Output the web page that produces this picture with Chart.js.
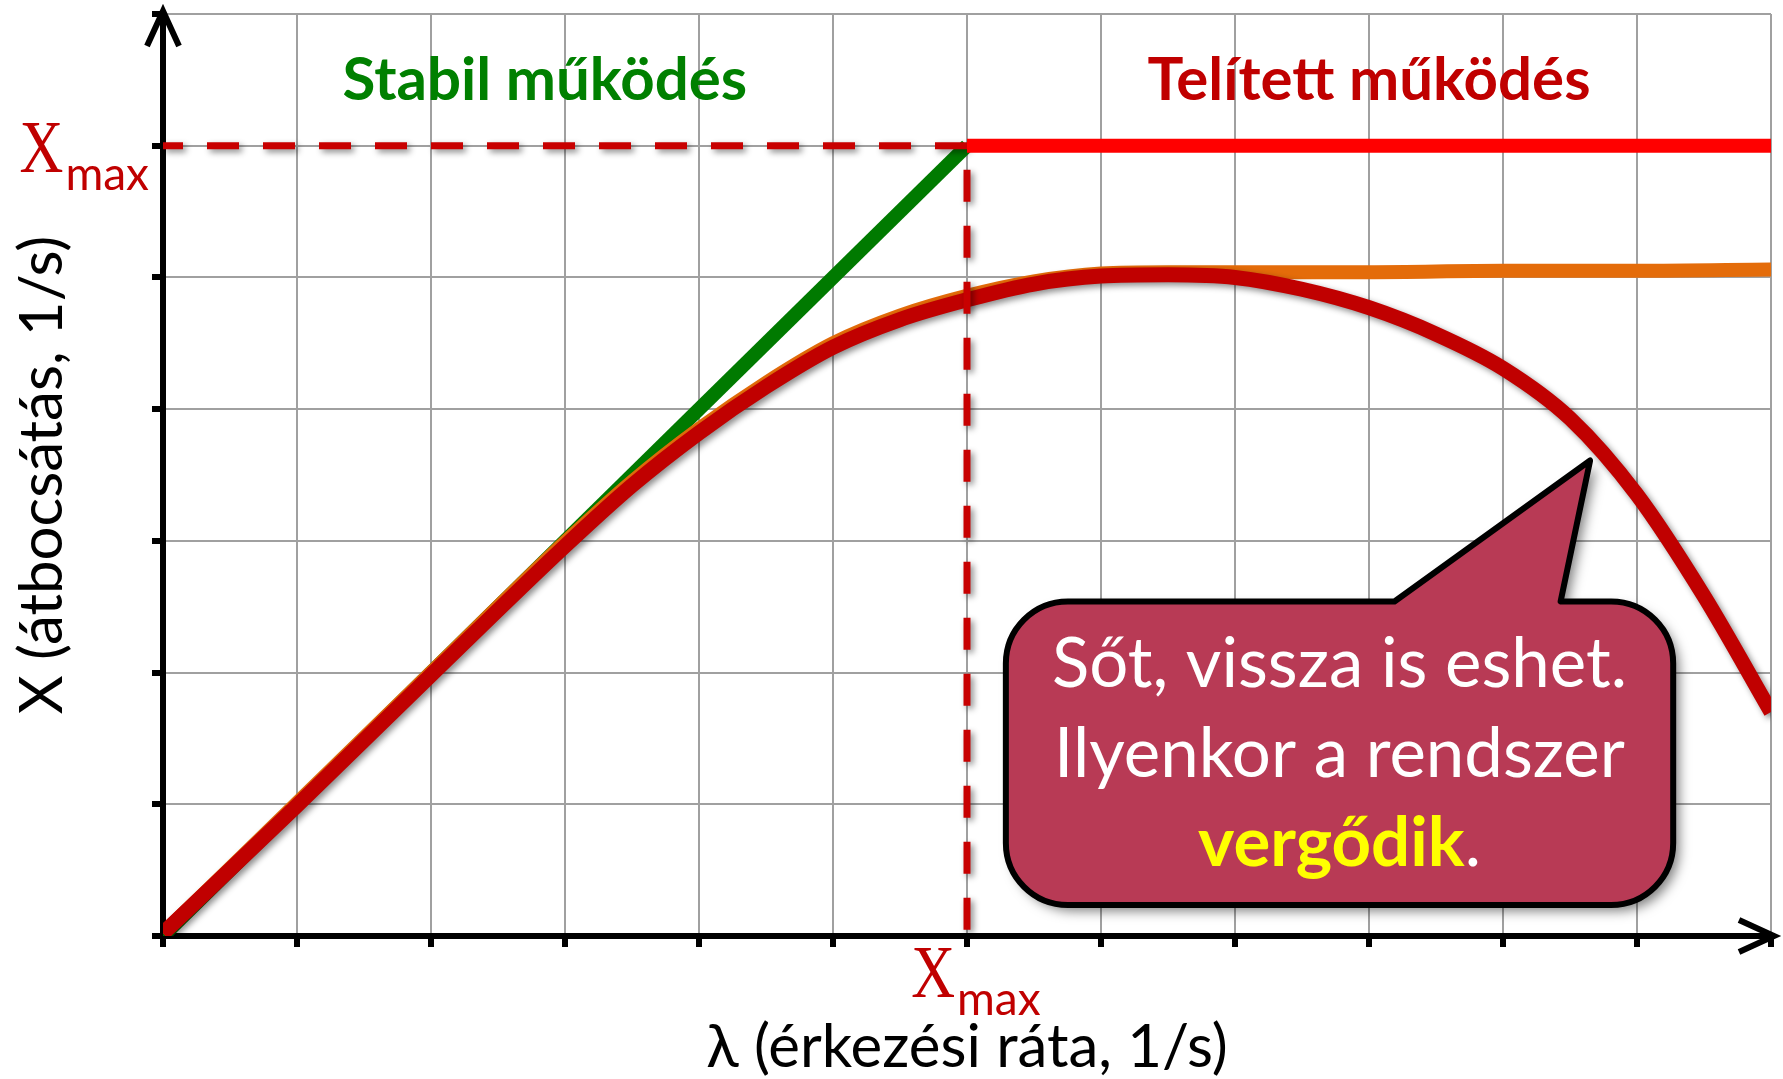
<!DOCTYPE html>
<html>
<head>
<meta charset="utf-8">
<title>Átbocsátás és érkezési ráta</title>
<script src="https://cdn.jsdelivr.net/npm/chart.js@4.4.1/dist/chart.umd.min.js"></script>
<style>
  html, body { margin: 0; padding: 0; background: #fff; }
  #chart { display: block; }
</style>
</head>
<body>
<canvas id="chart" width="1783" height="1079"></canvas>
<script>
// értékek (rács egységekben)
const xMax = 6;

const idealLambda = [0, 6];
const idealThroughput = [0, 6];

const limitLambda = [6, 12];
const limitThroughput = [6, 6];

const guideLambda = [0, 6, 6];
const guideThroughput = [6, 6, 0];

const realLambda = [0, 1, 2, 3, 3.5, 4, 4.5, 5, 5.5, 6, 6.5, 7, 7.5, 8, 9, 10, 11, 12];
const realThroughput = [0.02, 1.01, 2.0, 2.99, 3.45, 3.85, 4.2, 4.5, 4.71, 4.86, 4.97, 5.03, 5.04, 5.04, 5.04, 5.05, 5.05, 5.06];

const thrashLambda = [0, 1, 2, 3, 3.5, 4, 4.5, 5, 5.5, 6, 6.5, 7, 7.5, 8, 8.5, 9, 9.5, 10, 10.5, 11, 11.5, 12];
const thrashThroughput = [0.02, 0.99, 1.98, 2.96, 3.42, 3.82, 4.17, 4.47, 4.68, 4.83, 4.95, 5.01, 5.02, 5.0, 4.91, 4.77, 4.57, 4.31, 3.93, 3.35, 2.58, 1.7];

const regionLabels = ['Stabil működés', 'Telített működés'];
const calloutLines = ['Sőt, vissza is eshet.', 'Ilyenkor a rendszer'];
const calloutEmphasis = 'vergődik';

const SANS = 'Lato, "Liberation Serif"';

function points(xs, ys) {
  return xs.map((x, i) => ({ x: x, y: ys[i] }));
}

// X betű keskenyebb talpas betűvel, utána alsó index
function drawXmax(ctx, left, baseline) {
  ctx.save();
  ctx.font = '74px "Liberation Serif"';
  const wX = ctx.measureText('X').width * 0.82;
  ctx.translate(left, baseline);
  ctx.scale(0.82, 1);
  ctx.fillText('X', 0, 0);
  ctx.restore();
  ctx.font = '46px ' + SANS;
  ctx.fillText('max', left + wX + 2, baseline + 18);
  return wX + 2 + ctx.measureText('max').width;
}

const decorPlugin = {
  id: 'decor',
  beforeDatasetDraw(chart, args) {
    if (!chart.data.datasets[args.index].shadow) return;
    const ctx = chart.ctx;
    ctx.save();
    ctx.shadowColor = 'rgba(0,0,0,0.45)';
    ctx.shadowBlur = 6;
    ctx.shadowOffsetX = 3;
    ctx.shadowOffsetY = 3;
  },
  afterDatasetDraw(chart, args) {
    if (chart.data.datasets[args.index].shadow) chart.ctx.restore();
  },
  afterDraw(chart) {
    const { ctx, chartArea } = chart;
    const xs = chart.scales.x, ys = chart.scales.y;
    const px = v => xs.getPixelForValue(v);
    const py = v => ys.getPixelForValue(v);

    ctx.save();

    // tengely nyilak
    ctx.strokeStyle = '#000';
    ctx.lineWidth = 6;
    ctx.beginPath();
    ctx.moveTo(chartArea.left, chartArea.top);
    ctx.lineTo(chartArea.left, chartArea.top - 3);
    ctx.moveTo(chartArea.left - 16, chartArea.top + 32);
    ctx.lineTo(chartArea.left, chartArea.top - 3);
    ctx.lineTo(chartArea.left + 16, chartArea.top + 32);
    ctx.moveTo(chartArea.right - 32, chartArea.bottom - 16);
    ctx.lineTo(chartArea.right + 3, chartArea.bottom);
    ctx.lineTo(chartArea.right - 32, chartArea.bottom + 16);
    ctx.stroke();

    // tartomány feliratok
    ctx.font = 'bold 60px ' + SANS;
    ctx.textAlign = 'center';
    ctx.textBaseline = 'alphabetic';
    ctx.fillStyle = '#008000';
    ctx.fillText(regionLabels[0], px(2.85), py(6.35));
    ctx.fillStyle = '#C00000';
    ctx.fillText(regionLabels[1], px(9.0), py(6.35));

    // X_max feliratok
    ctx.fillStyle = '#C00000';
    ctx.textAlign = 'left';
    ctx.font = '46px ' + SANS;
    const wSub = ctx.measureText('max').width;
    ctx.font = '74px "Liberation Serif"';
    const wX = ctx.measureText('X').width * 0.82;
    drawXmax(ctx, chartArea.left - 14 - wSub - wX - 2, py(xMax) + 26);
    drawXmax(ctx, px(xMax) - wX - 12, chartArea.bottom + 61);

    // szövegbuborék
    const L = px(6.29), R = px(11.27), T = py(2.54), B = py(0.235);
    const r = 62;
    ctx.beginPath();
    ctx.moveTo(L + r, T);
    ctx.lineTo(px(9.19), T);
    ctx.lineTo(px(10.65), py(3.61));
    ctx.lineTo(px(10.43), T);
    ctx.arcTo(R, T, R, B, r);
    ctx.arcTo(R, B, L, B, r);
    ctx.arcTo(L, B, L, T, r);
    ctx.arcTo(L, T, R, T, r);
    ctx.closePath();
    ctx.save();
    ctx.shadowColor = 'rgba(0,0,0,0.5)';
    ctx.shadowBlur = 12;
    ctx.shadowOffsetX = 6;
    ctx.shadowOffsetY = 6;
    ctx.fillStyle = '#B83A55';
    ctx.fill();
    ctx.restore();
    ctx.lineWidth = 6;
    ctx.lineJoin = 'round';
    ctx.strokeStyle = '#000';
    ctx.stroke();

    const cx = (L + R) / 2;
    ctx.textAlign = 'center';
    ctx.fillStyle = '#fff';
    ctx.font = '69px ' + SANS;
    ctx.fillText(calloutLines[0], cx, T + 86);
    ctx.fillText(calloutLines[1], cx, T + 176);
    ctx.font = 'bold 69px ' + SANS;
    const wb = ctx.measureText(calloutEmphasis).width;
    ctx.font = '69px ' + SANS;
    const wd = ctx.measureText('.').width;
    const sx = cx - (wb + wd) / 2;
    ctx.textAlign = 'left';
    ctx.font = 'bold 69px ' + SANS;
    ctx.fillStyle = '#FFFF00';
    ctx.fillText(calloutEmphasis, sx, T + 265);
    ctx.font = '69px ' + SANS;
    ctx.fillStyle = '#fff';
    ctx.fillText('.', sx + wb, T + 265);

    ctx.restore();
  }
};

new Chart(document.getElementById('chart'), {
  type: 'line',
  data: {
    datasets: [
      {
        label: 'Telített',
        data: points(limitLambda, limitThroughput),
        borderColor: '#FF0000',
        borderWidth: 14,
        tension: 0
      },
      {
        label: 'Xmax',
        data: points(guideLambda, guideThroughput),
        borderColor: '#C80000',
        borderWidth: 7,
        borderDash: [32, 24],
        borderDashOffset: 12,
        tension: 0,
        shadow: true
      },
      {
        label: 'Vergődés',
        data: points(thrashLambda, thrashThroughput),
        borderColor: '#C00000',
        borderWidth: 15,
        cubicInterpolationMode: 'monotone',
        shadow: true
      },
      {
        label: 'Valós',
        data: points(realLambda, realThroughput),
        borderColor: '#E46C0A',
        borderWidth: 14,
        cubicInterpolationMode: 'monotone'
      },
      {
        label: 'Ideális',
        data: points(idealLambda, idealThroughput),
        borderColor: '#007A00',
        borderWidth: 14,
        tension: 0
      }
    ]
  },
  options: {
    responsive: false,
    animation: false,
    devicePixelRatio: 1,
    layout: { padding: { top: 14, right: 12, left: 0, bottom: 0 } },
    elements: { point: { radius: 0 } },
    plugins: {
      legend: { display: false },
      tooltip: { enabled: false }
    },
    scales: {
      x: {
        type: 'linear',
        min: 0,
        max: 12,
        ticks: { stepSize: 1, display: false },
        grid: { color: '#A0A0A0', lineWidth: 2, tickLength: 11, tickWidth: 6, tickColor: '#000' },
        border: { display: true, color: '#000', width: 6 },
        title: {
          display: true,
          text: 'λ (érkezési ráta, 1/s)',
          color: '#000',
          font: { family: SANS, size: 60, lineHeight: 1 },
          padding: { bottom: 1 }
        },
        afterFit(scale) { scale.height = 143; }
      },
      y: {
        min: 0,
        max: 7,
        ticks: { stepSize: 1, display: false },
        grid: { color: '#A0A0A0', lineWidth: 2, tickLength: 11, tickWidth: 6, tickColor: '#000' },
        border: { display: true, color: '#000', width: 6 },
        title: {
          display: true,
          text: 'X (átbocsátás, 1/s)',
          color: '#000',
          font: { family: SANS, size: 60, lineHeight: 1 },
          padding: { top: 13 }
        },
        afterFit(scale) { scale.width = 163; }
      }
    }
  },
  plugins: [decorPlugin]
});
</script>
</body>
</html>
